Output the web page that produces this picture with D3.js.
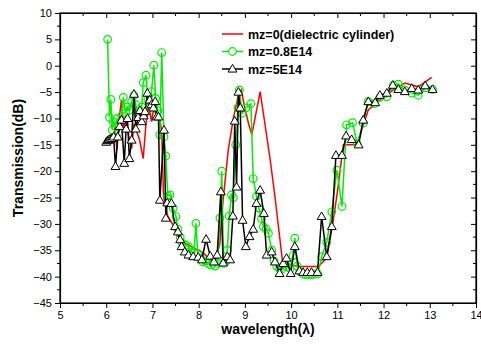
<!DOCTYPE html>
<html>
<head>
<meta charset="utf-8">
<script src="https://cdn.jsdelivr.net/npm/d3@7"></script>
<style>
  body { margin: 0; background: #fff; }
  text { font-family: "Liberation Sans", Arial, sans-serif; }
</style>
</head>
<body>
<script>
const W = 481, H = 352;
const margin = {top: 13, right: 5, bottom: 49, left: 60};
const width = W - margin.left - margin.right, height = H - margin.top - margin.bottom;

const xTicks = [5, 6, 7, 8, 9, 10, 11, 12, 13, 14];
const yTicks = [10, 5, 0, -5, -10, -15, -20, -25, -30, -35, -40, -45];

const seriesNames = ["mz=0(dielectric cylinder)", "mz=0.8E14", "mz=5E14"];

// mz=0 (red line, no symbols)
const redData = [
  [6.00,-14.5],[6.05,-14],[6.10,-13],[6.15,-14],[6.19,-11.6],[6.23,-16],[6.28,-10],[6.33,-6.5],
  [6.38,-12],[6.43,-10],[6.48,-13],[6.55,-15.7],[6.60,-11],[6.66,-12.5],[6.72,-14],[6.80,-17.6],
  [6.86,-11],[6.91,-7.8],[6.95,-9],[6.98,-10.6],[7.03,-8],[7.09,-9.0],[7.15,-10],[7.20,-12.2],
  [7.24,-24.8],[7.28,-26.5],[7.33,-28.5],[7.40,-29.5],[7.47,-30.5],[7.53,-32],[7.60,-33],[7.67,-33.5],
  [8.10,-35.5],[8.22,-36.5],[8.30,-37.3],[8.38,-36.5],[8.46,-33.7],[8.50,-28],[8.64,-16],[8.75,-10],
  [8.85,-6],[8.92,-4.6],[9.00,-8],[9.08,-11],[9.15,-13.1],[9.33,-4.9],[9.45,-12],[9.55,-18],
  [9.65,-24.8],[9.81,-36.8],[9.90,-37.5],[10.00,-37.8],[10.19,-38.1],[10.40,-38.1],[10.59,-38.1],
  [10.77,-36.5],[10.90,-30],[11.00,-24],[11.13,-15.0],[11.42,-15.0],[11.67,-8.4],[11.92,-6.5],
  [12.21,-4.6],[12.46,-3.3],[12.75,-4.0],[13.04,-2.2]
];

// mz=0.8E14 (green, circles)
const greenData = [
  [6.03,5.0],[6.07,-9.8],[6.10,-6.4],[6.13,-12.2],[6.15,-10.6],[6.20,-11.5],[6.24,-10.0],[6.28,-12.5],
  [6.33,-9.5],[6.37,-6.0],[6.42,-9.0],[6.46,-7.8],[6.50,-8.4],[6.55,-6.8],[6.60,-5.6],[6.64,-7.4],
  [6.68,-9.0],[6.72,-8.5],[6.77,-7.8],[6.80,-3.2],[6.86,-1.8],[6.90,-6.5],[6.94,-8.0],[6.98,-4.9],
  [7.03,0.1],[7.07,-6.2],[7.12,-8.5],[7.16,-13.1],[7.20,2.5],[7.25,-13.5],[7.29,-17.1],[7.33,-24.7],
  [7.38,-24.5],[7.45,-27.0],[7.51,-28.6],[7.55,-31.0],[7.60,-32.5],[7.65,-33.7],[7.72,-34.0],[7.78,-34.3],
  [7.84,-35.3],[7.90,-35.5],[7.94,-29.9],[7.98,-35.6],[8.04,-36.5],[8.09,-37.2],[8.15,-37.0],[8.20,-37.5],
  [8.26,-37.8],[8.31,-37.5],[8.36,-38.0],[8.41,-37.5],[8.46,-28.9],[8.50,-20.0],[8.54,-37.5],[8.58,-37.2],
  [8.62,-35.0],[8.66,-28.5],[8.71,-24.5],[8.75,-25.0],[8.80,-15],[8.85,-8],[8.88,-4.6],[8.94,-9],
  [9.02,-8],[9.13,-7.2],[9.18,-21.4],[9.25,-24.8],[9.30,-27],[9.36,-29],[9.40,-30.5],[9.46,-31],
  [9.51,-31.8],[9.58,-35],[9.63,-37],[9.69,-38.1],[9.75,-38.5],[9.80,-38.6],[9.86,-37.5],[9.92,-38.2],
  [9.98,-38.5],[10.04,-36],[10.08,-32.7],[10.13,-38],[10.19,-39.0],[10.26,-39.5],[10.32,-39.6],
  [10.38,-39.6],[10.45,-39.6],[10.52,-39.5],[10.58,-39.5],[10.66,-36.2],[10.77,-33.5],[10.88,-27.7],
  [10.99,-19.8],[11.10,-26.7],[11.20,-11.2],[11.33,-10.8],[11.43,-14.8],[11.56,-10.9],[11.67,-6.8],
  [11.80,-7.2],[11.92,-6.0],[12.07,-5.9],[12.21,-3.7],[12.32,-3.5],[12.46,-4.6],[12.61,-5.2],
  [12.75,-5.6],[12.90,-4.2],[13.06,-4.5]
];

// mz=5E14 (black, triangles)
const blackData = [
  [6.00,-14.5],[6.03,-14.2],[6.05,-14.1],[6.08,-14.0],[6.12,-13.8],[6.16,-13.5],[6.20,-19.1],[6.25,-13.5],
  [6.29,-11.5],[6.33,-10.3],[6.39,-18.5],[6.43,-12],[6.46,-10.0],[6.50,-17.6],[6.55,-14.1],[6.60,-5.4],
  [6.64,-12],[6.69,-9.8],[6.73,-8.5],[6.77,-10.6],[6.81,-9.5],[6.84,-8.7],[6.89,-5.2],[6.94,-6.5],
  [6.98,-7.4],[7.02,-8],[7.06,-6.8],[7.09,-9.7],[7.13,-9.7],[7.16,-25.5],[7.25,-12.2],[7.29,-28.9],
  [7.32,-26],[7.41,-26.1],[7.49,-30.5],[7.55,-31.5],[7.60,-33],[7.63,-34.3],[7.70,-35.3],[7.78,-35.9],
  [7.88,-36.2],[7.99,-36.3],[8.07,-36.8],[8.16,-32.9],[8.25,-36.1],[8.33,-37.2],[8.40,-35.9],[8.48,-23.9],
  [8.53,-37.4],[8.62,-36.2],[8.68,-36.8],[8.74,-28.5],[8.78,-10.5],[8.82,-23],[8.86,-5],[8.90,-8],
  [8.95,-29.3],[9.02,-34.3],[9.10,-32.4],[9.18,-31],[9.25,-26.1],[9.33,-23.6],[9.41,-28],[9.47,-35.9],
  [9.58,-35.3],[9.65,-37.2],[9.75,-39.4],[9.83,-37.5],[9.90,-36.5],[9.99,-39.4],[10.08,-34.3],
  [10.18,-38.9],[10.26,-39.2],[10.35,-39.2],[10.44,-39.2],[10.57,-39.2],[10.66,-28.6],[10.77,-36.2],
  [10.88,-30.5],[10.97,-17.0],[11.10,-17.0],[11.19,-13.3],[11.31,-14.0],[11.46,-15.0],[11.56,-10.3],
  [11.67,-6.8],[11.82,-7.0],[11.92,-5.6],[12.07,-5.2],[12.20,-3.7],[12.32,-4.5],[12.46,-4.9],
  [12.61,-4.3],[12.75,-4.6],[12.90,-3.8],[13.06,-4.5]
];

const colors = ["#ff0000", "#00ee00", "#000000"];

const svg = d3.select("body").append("svg").attr("width", W).attr("height", H);
const g = svg.append("g").attr("transform", "translate(" + margin.left + "," + margin.top + ")");

const x = d3.scaleLinear().domain([5, 14]).range([0, width]);
const y = d3.scaleLinear().domain([-45, 10]).range([height, 0]);

const xMinor = d3.range(5.5, 14, 1);
const yMinor = d3.range(-42.5, 10, 5);

// frame
g.append("rect").attr("width", width).attr("height", height)
  .attr("fill", "none").attr("stroke", "#000").attr("stroke-width", 1.2);

// bottom axis (ticks out)
const xa = g.append("g").attr("transform", "translate(0," + height + ")")
  .call(d3.axisBottom(x).tickValues(xTicks).tickSize(5).tickSizeOuter(0).tickPadding(3));
xa.append("g").selectAll("line").data(xMinor).join("line")
  .attr("x1", d => x(d)).attr("x2", d => x(d)).attr("y1", 0).attr("y2", 3).attr("stroke", "#000");
// left axis (ticks out)
const ya = g.append("g")
  .call(d3.axisLeft(y).tickValues(yTicks).tickSize(5).tickSizeOuter(0).tickPadding(3));
ya.append("g").selectAll("line").data(yMinor).join("line")
  .attr("y1", d => y(d)).attr("y2", d => y(d)).attr("x1", 0).attr("x2", -3).attr("stroke", "#000");
// top and right (ticks in, no labels)
const ta = g.append("g")
  .call(d3.axisTop(x).tickValues(xTicks).tickSize(-5).tickSizeOuter(0).tickFormat(""));
ta.append("g").selectAll("line").data(xMinor).join("line")
  .attr("x1", d => x(d)).attr("x2", d => x(d)).attr("y1", 0).attr("y2", 3).attr("stroke", "#000");
const ra = g.append("g").attr("transform", "translate(" + width + ",0)")
  .call(d3.axisRight(y).tickValues(yTicks).tickSize(-5).tickSizeOuter(0).tickFormat(""));
ra.append("g").selectAll("line").data(yMinor).join("line")
  .attr("y1", d => y(d)).attr("y2", d => y(d)).attr("x1", 0).attr("x2", -3).attr("stroke", "#000");

[xa, ya, ta, ra].forEach(a => {
  a.select(".domain").attr("stroke-width", 1.2);
  a.selectAll("text").attr("font-size", 11).attr("font-family", "'Liberation Sans', Arial, sans-serif").attr("fill", "#000");
});

// axis titles
svg.append("text").attr("x", margin.left + width / 2).attr("y", 334)
  .attr("text-anchor", "middle").attr("font-size", 14).attr("font-weight", "bold")
  .text("wavelength(λ)");
svg.append("text").attr("transform", "translate(23," + (margin.top + height / 2) + ") rotate(-90)")
  .attr("text-anchor", "middle").attr("font-size", 14).attr("font-weight", "bold")
  .text("Transmission(dB)");

const line = d3.line().x(d => x(d[0])).y(d => y(d[1]));
const tri = d3.symbol().type(d3.symbolTriangle).size(34);

// red series
g.append("path").datum(redData).attr("d", line)
  .attr("fill", "none").attr("stroke", colors[0]).attr("stroke-width", 1.5);

// green series
g.append("path").datum(greenData).attr("d", line)
  .attr("fill", "none").attr("stroke", colors[1]).attr("stroke-width", 1.5);
g.append("g").selectAll("circle").data(greenData).join("circle")
  .attr("cx", d => x(d[0])).attr("cy", d => y(d[1])).attr("r", 3.8)
  .attr("fill", "none").attr("stroke", colors[1]).attr("stroke-width", 1.2);

// black series
g.append("path").datum(blackData).attr("d", line)
  .attr("fill", "none").attr("stroke", colors[2]).attr("stroke-width", 1.5);
g.append("g").selectAll("path").data(blackData).join("path")
  .attr("transform", d => "translate(" + x(d[0]) + "," + (y(d[1]) + 0.5) + ")")
  .attr("d", tri).attr("fill", "#fff").attr("stroke", colors[2]).attr("stroke-width", 1);

// legend
const legend = svg.append("g").attr("transform", "translate(222,34)");
seriesNames.forEach((name, i) => {
  const row = legend.append("g").attr("transform", "translate(0," + i * 17.5 + ")");
  row.append("line").attr("x1", 0).attr("x2", 21).attr("y1", 0).attr("y2", 0)
    .attr("stroke", colors[i]).attr("stroke-width", 1.5);
  if (i === 1) row.append("circle").attr("cx", 10.5).attr("cy", 0).attr("r", 3.8)
    .attr("fill", "#fff").attr("stroke", colors[1]).attr("stroke-width", 1.2);
  if (i === 2) row.append("path").attr("transform", "translate(10.5,0.5)").attr("d", tri)
    .attr("fill", "#fff").attr("stroke", "#000");
  row.append("text").attr("x", 26).attr("y", 4.5).attr("font-size", 12.5).attr("font-weight", "bold")
    .text(name);
});
</script>
</body>
</html>
